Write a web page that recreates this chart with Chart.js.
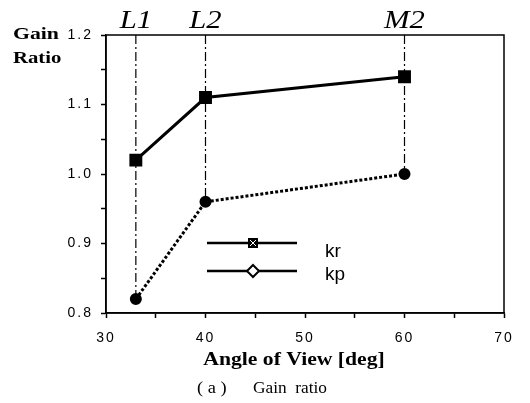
<!DOCTYPE html>
<html>
<head>
<meta charset="utf-8">
<script src="https://cdn.jsdelivr.net/npm/chart.js@4/dist/chart.umd.min.js"></script>
<style>
  body { margin: 0; background: #fff; }
</style>
</head>
<body>
<canvas id="gain" width="530" height="403"></canvas>
<script>
// data
const angles = [33, 40, 60];
const refNames = ['L1', 'L2', 'M2'];
const krValues = [1.02, 1.11, 1.14];
const kpValues = [0.82, 0.96, 1.00];
const xRange = [30, 70];
const yRange = [0.8, 1.2];

const pts = (vals) => angles.map((a, i) => ({ x: a, y: vals[i] }));

// dash-dot reference lines, from the top of the frame down to the kp point
const refSets = angles.map((a, i) => ({
    data: [{ x: a, y: yRange[1] }, { x: a, y: kpValues[i] }],
    borderColor: '#000',
    borderWidth: 1.2,
    borderDash: [9, 3, 2, 3],
    pointRadius: 0,
    order: 3
}));

// text in the scan is a bit wider than the fonts we have, so stretch it
function wideText(ctx, text, x, y, sx) {
    ctx.save();
    ctx.translate(x, y);
    ctx.scale(sx, 1);
    ctx.fillText(text, 0, 0);
    ctx.restore();
}

const textPlugin = {
    id: 'texts',
    beforeDraw(chart) {
        chart.ctx.letterSpacing = '2px';
    },
    afterDraw(chart) {
        const { ctx, chartArea: a, scales: { x } } = chart;
        ctx.save();
        ctx.letterSpacing = '0px';
        ctx.fillStyle = '#000';
        ctx.strokeStyle = '#000';

        // frame
        ctx.lineWidth = 1.5;
        ctx.strokeRect(a.left, a.top, a.width, a.height);

        // L1 / L2 / M2 labels
        ctx.font = 'italic 26px "Liberation Serif"';
        ctx.textAlign = 'center';
        ctx.textBaseline = 'alphabetic';
        refNames.forEach((n, i) => wideText(ctx, n, x.getPixelForValue(angles[i]), a.top - 7, 1.18));

        // y title
        ctx.font = 'bold 17px "Liberation Serif"';
        ctx.textAlign = 'left';
        wideText(ctx, 'Gain', 13, a.top + 4, 1.28);
        wideText(ctx, 'Ratio', 13, a.top + 28, 1.22);

        // x title + caption
        ctx.textAlign = 'center';
        ctx.font = 'bold 19px "Liberation Serif"';
        wideText(ctx, 'Angle of View [deg]', 294, 365, 1.14);
        ctx.font = '16px "Liberation Serif"';
        ctx.textAlign = 'left';
        wideText(ctx, '( a )', 197, 393, 1.15);
        wideText(ctx, 'Gain  ratio', 253, 393, 1.08);

        // legend
        const lx1 = 207, lx2 = 297, mx = 253, tx = 325;
        ctx.lineWidth = 2.5;
        ctx.beginPath();
        ctx.moveTo(lx1, 243); ctx.lineTo(lx2, 243);
        ctx.moveTo(lx1, 271); ctx.lineTo(lx2, 271);
        ctx.stroke();
        ctx.fillRect(mx - 5, 238, 10, 10);
        ctx.strokeStyle = '#fff';
        ctx.lineWidth = 1;
        ctx.beginPath();
        ctx.moveTo(mx - 3, 240); ctx.lineTo(mx + 3, 246);
        ctx.moveTo(mx + 3, 240); ctx.lineTo(mx - 3, 246);
        ctx.stroke();
        ctx.strokeStyle = '#000';
        ctx.fillStyle = '#fff';
        ctx.lineWidth = 2;
        ctx.beginPath();
        ctx.moveTo(mx, 265); ctx.lineTo(mx + 6, 271); ctx.lineTo(mx, 277); ctx.lineTo(mx - 6, 271);
        ctx.closePath();
        ctx.fill(); ctx.stroke();
        ctx.fillStyle = '#000';
        ctx.font = '19px "Liberation Sans"';
        ctx.textAlign = 'left';
        ctx.textBaseline = 'alphabetic';
        ctx.fillText('kr', tx, 257);
        ctx.fillText('kp', tx, 280);
        ctx.restore();
    }
};

const chart = new Chart(document.getElementById('gain'), {
    type: 'line',
    data: {
        datasets: [
            ...refSets,
            {
                label: 'kr',
                data: pts(krValues),
                borderColor: '#000',
                backgroundColor: '#000',
                borderWidth: 3,
                pointStyle: 'rect',
                pointRadius: 7,
                order: 1
            },
            {
                label: 'kp',
                data: pts(kpValues),
                borderColor: '#000',
                backgroundColor: '#000',
                borderWidth: 3,
                borderDash: [3, 2],
                pointStyle: 'circle',
                pointRadius: 4.5,
                order: 2
            }
        ]
    },
    options: {
        responsive: false,
        animation: false,
        layout: { padding: { left: 56, right: 26, top: 35, bottom: 0 } },
        plugins: {
            legend: { display: false },
            tooltip: { enabled: false }
        },
        scales: {
            x: {
                type: 'linear',
                min: xRange[0],
                max: xRange[1],
                afterFit(s) { s.height = 90; },
                border: { display: true, color: '#000', width: 1.5 },
                grid: { drawOnChartArea: false, tickLength: 5, color: '#000', tickWidth: 1.5 },
                ticks: {
                    stepSize: 5,
                    color: '#000',
                    padding: 12,
                    font: { family: 'Liberation Sans', size: 14 },
                    callback: (v) => (v % 10 === 0 ? v : '')
                }
            },
            y: {
                min: yRange[0],
                max: yRange[1],
                afterFit(s) { s.width = 50; },
                border: { display: true, color: '#000', width: 1.5 },
                grid: { drawOnChartArea: false, tickLength: 5, color: '#000', tickWidth: 1.5 },
                ticks: {
                    stepSize: 0.05,
                    color: '#000',
                    padding: 8,
                    font: { family: 'Liberation Sans', size: 14 },
                    callback: (v) => (Math.round(v * 100) % 10 === 0 ? v.toFixed(1) : '')
                }
            }
        }
    },
    plugins: [textPlugin]
});
</script>
</body>
</html>
